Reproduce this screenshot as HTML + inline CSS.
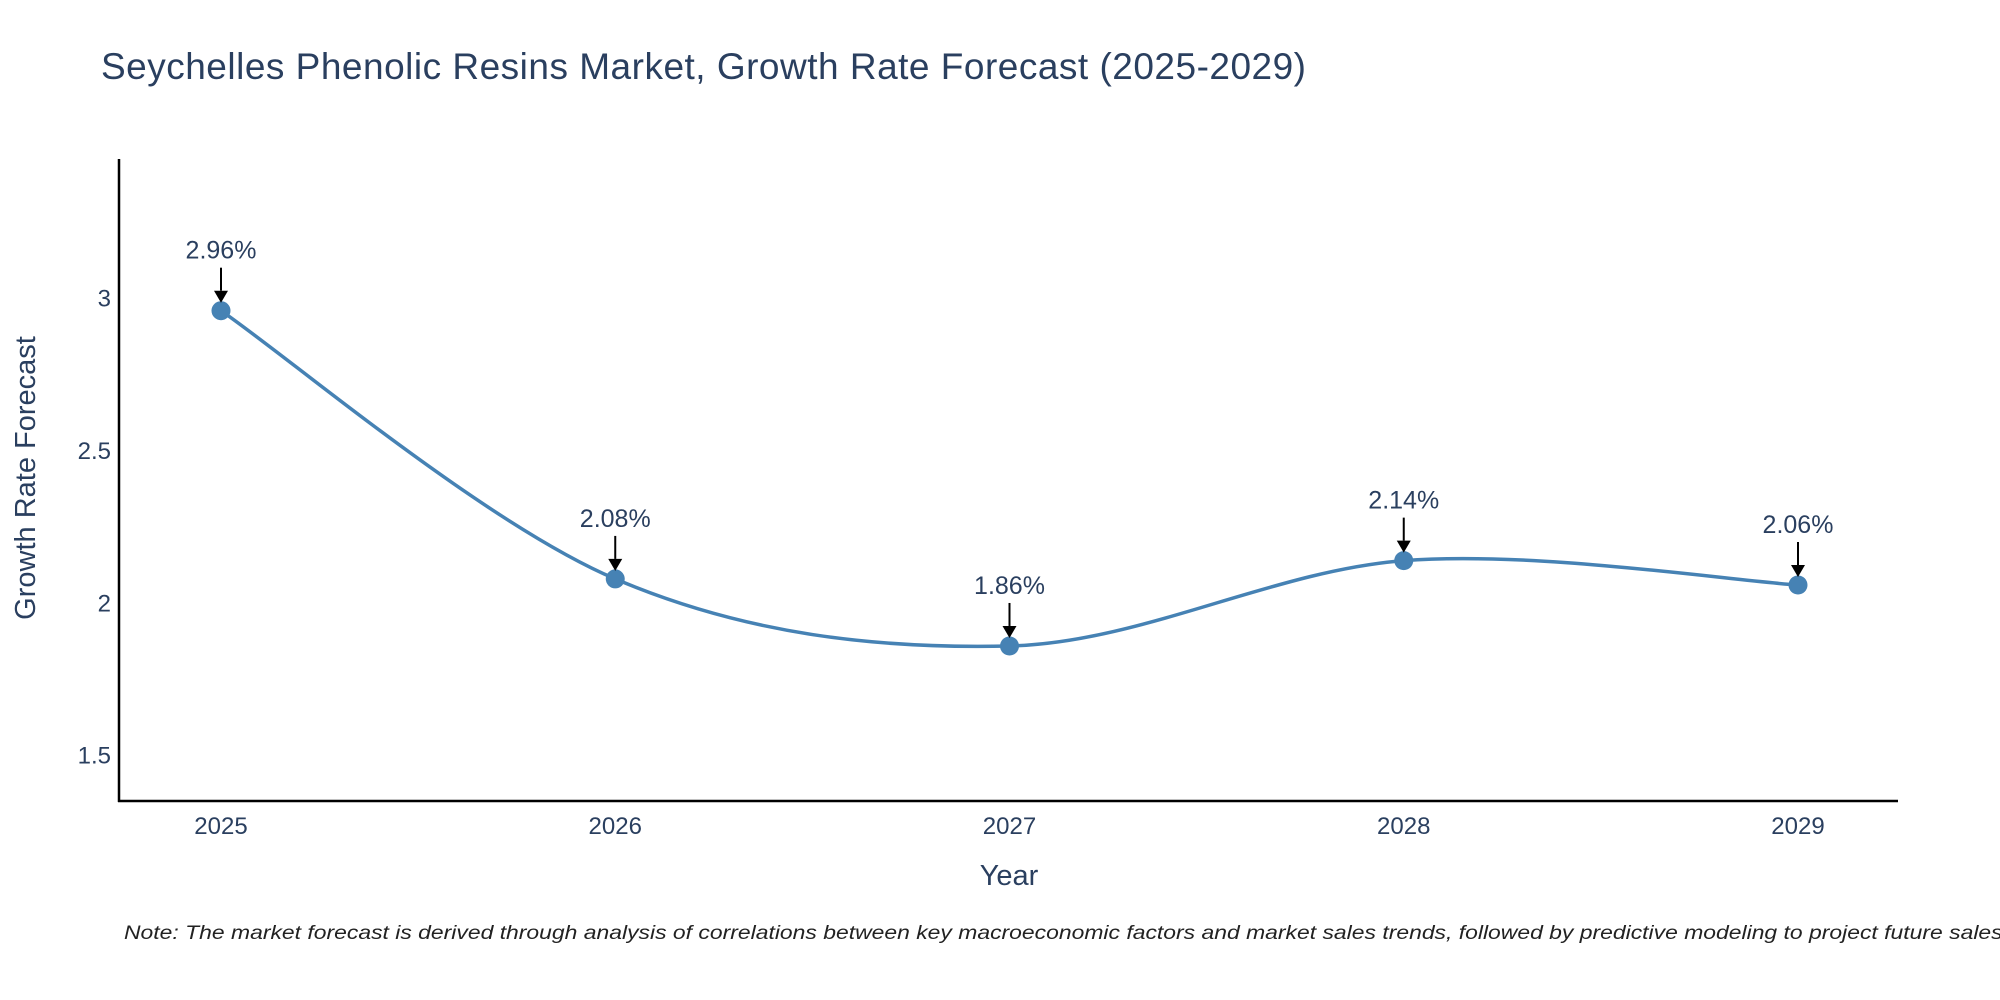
<!DOCTYPE html>
<html><head><meta charset="utf-8"><style>
html,body{margin:0;padding:0;background:#fff;width:2000px;height:1000px;overflow:hidden}
svg{display:block;font-family:"Liberation Sans",sans-serif}
</style></head><body>
<svg id="chart" width="2000" height="1000">
<text x="101" y="79" font-size="37" fill="#2a3f5f" textLength="1205">Seychelles Phenolic Resins Market, Growth Rate Forecast (2025-2029)</text>
<g id="axes"></g>
<g id="series"></g>
<text x="26" y="478" font-size="29" fill="#2a3f5f" text-anchor="middle" transform="rotate(-90 26 478)" dy="9">Growth Rate Forecast</text>
<text x="1009" y="885" font-size="29" fill="#2a3f5f" text-anchor="middle">Year</text>
<text x="124" y="939" font-size="19" font-style="italic" fill="#222" textLength="1885" lengthAdjust="spacingAndGlyphs">Note: The market forecast is derived through analysis of correlations between key macroeconomic factors and market sales trends, followed by predictive modeling to project future sales.</text>
</svg>
<script>
const years = [2025, 2026, 2027, 2028, 2029];
const growth = [2.96, 2.08, 1.86, 2.14, 2.06];
const yTicks = [1.5, 2, 2.5, 3];

const NS = "http://www.w3.org/2000/svg";
const X0 = 119, X1 = 1898, YT = 159, YB = 801;
function xScale(yr){ return 221 + (yr - years[0]) * (1798 - 221) / (years[years.length-1] - years[0]); }
function yScale(v){ return 603.3 - (v - 2) * 304.8; }
function mk(tag, attrs, parent){ const e=document.createElementNS(NS,tag); for(const k in attrs) e.setAttribute(k,attrs[k]); parent.appendChild(e); return e; }

const axes = document.getElementById('axes');
const yl = mk('line',{x1:X0,y1:YT,x2:X0,y2:YB+1,stroke:'#000','stroke-width':2.5},axes);


const xl = mk('line',{x1:X0-1,y1:YB,x2:X1,y2:YB,stroke:'#000','stroke-width':2.5},axes);


yTicks.forEach(v=>{
  const t = mk('text',{x:111,y:yScale(v)+8,'font-size':24,fill:'#2a3f5f','text-anchor':'end'},axes);
  t.textContent = String(v);
  
  
});
years.forEach(yr=>{
  const t = mk('text',{x:xScale(yr),y:834,'font-size':24,fill:'#2a3f5f','text-anchor':'middle'},axes);
  t.textContent = String(yr);
  
  
});

const g = document.getElementById('series');
const pts = years.map((yr,i)=>[xScale(yr), yScale(growth[i])]);
let d = 'M'+pts[0][0]+','+pts[0][1];
const s = 1/6;
for(let i=0;i<pts.length-1;i++){
  const p0=pts[Math.max(0,i-1)], p1=pts[i], p2=pts[i+1], p3=pts[Math.min(pts.length-1,i+2)];
  const c1=[p1[0]+(p2[0]-p0[0])*s, p1[1]+(p2[1]-p0[1])*s];
  const c2=[p2[0]-(p3[0]-p1[0])*s, p2[1]-(p3[1]-p1[1])*s];
  d += ' C'+c1+' '+c2+' '+p2;
}
const line = mk('path',{d:d,fill:'none',stroke:'#4682b4','stroke-width':3.5},g);


pts.forEach((p,i)=>{
  const c = mk('circle',{cx:p[0],cy:p[1],r:9.5,fill:'#4682b4'},g);
  
  
  const a = mk('line',{x1:p[0],y1:p[1]-43,x2:p[0],y2:p[1]-20,stroke:'#000','stroke-width':2},g);
  
  
  const h = mk('path',{d:`M${p[0]-7},${p[1]-20} L${p[0]+7},${p[1]-20} L${p[0]},${p[1]-8} Z`,fill:'#000'},g);
  
  
  const t = mk('text',{x:p[0],y:p[1]-52,'font-size':25,fill:'#2a3f5f','text-anchor':'middle'},g);
  t.textContent = growth[i].toFixed(2)+'%';
  
  
});
</script>
</body></html>
